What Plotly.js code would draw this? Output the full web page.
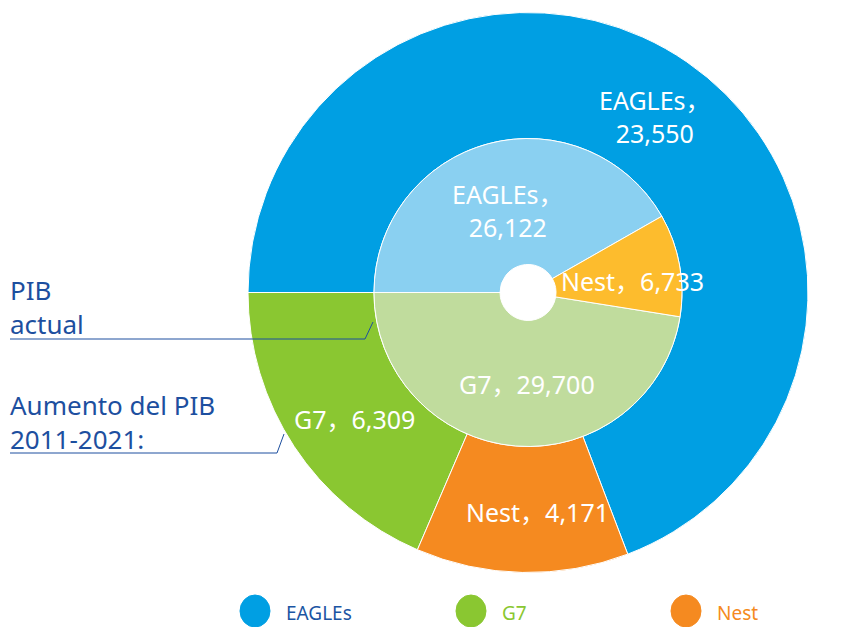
<!DOCTYPE html>
<html>
<head>
<meta charset="utf-8">
<script src="https://cdn.plot.ly/plotly-3.0.1.min.js"></script>
<style>html,body{margin:0;padding:0;background:#fff;}#chart{width:851px;height:627px;}</style>
</head>
<body>
<div id="chart"></div>
<script>
// ---- data ----
const categories = ['EAGLEs', 'G7', 'Nest'];
const outerValues = [23550, 6309, 4171];   // Aumento del PIB 2011-2021
const innerValues = [26122, 29700, 6733];  // PIB actual
const outerColors = ['#009FE3', '#8AC731', '#F58A20'];
const innerColors = ['#8AD0F1', '#C0DC9D', '#FDBC2D'];
const legendTextColors = ['#1B55A3', '#8AC731', '#F58A20'];
const sideLabels = ['PIB<br>actual', 'Aumento del PIB<br>2011-2021:'];

// ---- geometry (pixels) ----
const W = 851, H = 627;
const cx = 528, cy = 292.5;
const rOuter = 280, rInner = 154, rHole = 28;
const ROT = 270;
const FONT = 'Noto Sans, Noto Sans CJK SC, sans-serif';

function domainFor(r) {
  return {
    x: [(cx - r) / W, (cx + r) / W],
    y: [(H - cy - r) / H, (H - cy + r) / H]
  };
}
function fmt(v) { return v.toLocaleString('en-US'); }
// mid angles (clockwise from 12 o'clock) as Plotly lays out counterclockwise slices
function midAngles(vals) {
  const tot = vals.reduce((a, b) => a + b, 0);
  const f = 360 / tot;
  const res = [ROT + vals[0] * f / 2];
  let cum = 0;
  for (let i = 1; i < vals.length; i++) {
    res.push(ROT - (cum + vals[i] / 2) * f);
    cum += vals[i];
  }
  return res;
}
function toPaper(a, r) {
  const rad = a * Math.PI / 180;
  const px = cx + r * Math.sin(rad), py = cy - r * Math.cos(rad);
  return { x: px / W, y: 1 - py / H };
}

const traces = [
  {
    type: 'pie', labels: categories, values: outerValues, sort: false,
    direction: 'counterclockwise', rotation: ROT, hole: rInner / rOuter,
    domain: domainFor(rOuter), textinfo: 'none', showlegend: false,
    marker: { colors: outerColors, line: { color: '#ffffff', width: 1 } }
  },
  {
    type: 'pie', labels: categories, values: innerValues, sort: false,
    direction: 'counterclockwise', rotation: ROT, hole: rHole / rInner,
    domain: domainFor(rInner), textinfo: 'none', showlegend: false,
    marker: { colors: innerColors, line: { color: '#ffffff', width: 1 } }
  }
];

const annotations = [];
const shapes = [];
const labelFont = { family: FONT, size: 25, color: '#ffffff' };

const outerShift = [[4, -3], [8, -7], [14, -3]];
const innerShift = [[3, -6], [6, -1], [15, -5]];
const outerText = categories.map((c, i) => c === 'EAGLEs' ? c + '，<br>' + fmt(outerValues[i]) : c + '，' + fmt(outerValues[i]));
const innerText = categories.map((c, i) => c === 'EAGLEs' ? c + '，<br>' + fmt(innerValues[i]) : c + '，' + fmt(innerValues[i]));

midAngles(outerValues).forEach((a, i) => {
  const p = toPaper(a, (rOuter + rInner) / 2);
  annotations.push({ xref: 'paper', yref: 'paper', x: p.x, y: p.y, text: outerText[i],
    showarrow: false, font: labelFont, xanchor: 'center', yanchor: 'middle',
    xshift: outerShift[i][0], yshift: outerShift[i][1] });
});
midAngles(innerValues).forEach((a, i) => {
  const p = toPaper(a, (rInner + rHole) / 2);
  annotations.push({ xref: 'paper', yref: 'paper', x: p.x, y: p.y, text: innerText[i],
    showarrow: false, font: labelFont, xanchor: 'center', yanchor: 'middle',
    xshift: innerShift[i][0], yshift: innerShift[i][1] });
});

// side labels with leader lines
const sideColor = '#1D4F9F';
const sideY = [307, 422];
sideLabels.forEach((t, i) => {
  annotations.push({ xref: 'paper', yref: 'paper', x: 8 / W, y: 1 - sideY[i] / H, text: t,
    showarrow: false, align: 'left', xanchor: 'left', yanchor: 'middle',
    font: { family: FONT, size: 26, color: sideColor } });
});
const leaders = [
  [[10, 339], [365, 339], [373, 322]],
  [[10, 453], [277, 453], [284, 434]]
];
leaders.forEach(pts => {
  for (let k = 0; k < pts.length - 1; k++) {
    shapes.push({ type: 'line', xref: 'paper', yref: 'paper',
      x0: pts[k][0] / W, y0: 1 - pts[k][1] / H, x1: pts[k + 1][0] / W, y1: 1 - pts[k + 1][1] / H,
      line: { color: sideColor, width: 1 } });
  }
});

// custom legend with round swatches
const legX = [255, 471, 686];
const legY = 611;
categories.forEach((c, i) => {
  shapes.push({ type: 'circle', xref: 'paper', yref: 'paper',
    x0: (legX[i] - 15) / W, x1: (legX[i] + 15) / W,
    y0: 1 - (legY + 16) / H, y1: 1 - (legY - 16) / H,
    fillcolor: outerColors[i], line: { color: outerColors[i], width: 1 } });
  annotations.push({ xref: 'paper', yref: 'paper', x: (legX[i] + 29) / W, y: 1 - 613 / H,
    text: c, showarrow: false, xanchor: 'left', yanchor: 'middle',
    font: { family: FONT, size: 19, color: legendTextColors[i] } });
});

const layout = {
  width: W, height: H,
  margin: { l: 0, r: 0, t: 0, b: 0 },
  paper_bgcolor: '#ffffff', plot_bgcolor: '#ffffff',
  showlegend: false,
  annotations: annotations, shapes: shapes
};
Plotly.newPlot('chart', traces, layout, { displayModeBar: false, staticPlot: true });
</script>
</body>
</html>
